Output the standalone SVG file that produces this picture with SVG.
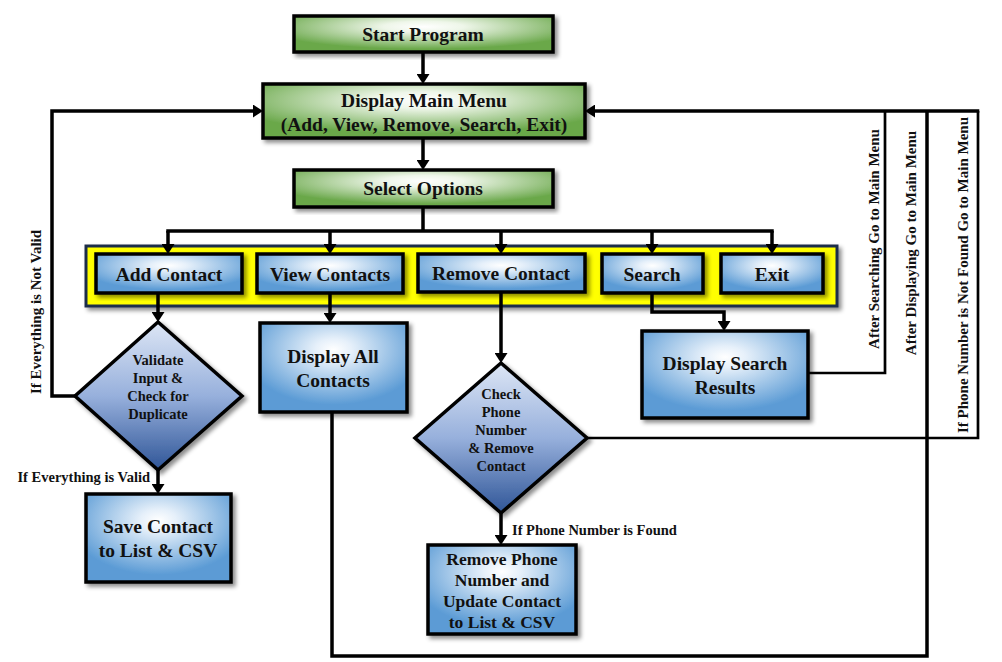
<svg xmlns="http://www.w3.org/2000/svg" width="1002" height="662" viewBox="0 0 1002 662">
<style>
.t{font-family:"Liberation Serif","Times New Roman",serif;font-weight:bold;fill:#111;text-anchor:middle}
.b{font-size:19.5px}
.m{font-size:17.5px}
.d{font-size:14.5px}
.l{font-size:14.5px}
.r{font-size:15px}
.box{stroke:#000;stroke-width:3.5}
.g{fill:url(#gG)}
.bl{fill:url(#gB)}
.dm{fill:url(#gD);stroke:#000;stroke-width:3.5;stroke-linejoin:miter}
.c{fill:none;stroke:#000;stroke-width:3.5}
.cs{fill:none;stroke:#000;stroke-width:2.7}
.a{marker-end:url(#ah)}
</style>
<defs>
<radialGradient id="gG" cx="50%" cy="30%" r="62%">
<stop offset="0" stop-color="#ffffff"/>
<stop offset="0.25" stop-color="#eef6e9"/>
<stop offset="1" stop-color="#6aa84a"/>
</radialGradient>
<radialGradient id="gB" cx="50%" cy="30%" r="62%">
<stop offset="0" stop-color="#ffffff"/>
<stop offset="0.2" stop-color="#e6f0fa"/>
<stop offset="1" stop-color="#5b9bd5"/>
</radialGradient>
<linearGradient id="gD" x1="0" y1="0" x2="0" y2="1">
<stop offset="0" stop-color="#dde6f5"/>
<stop offset="0.5" stop-color="#97b0dc"/>
<stop offset="1" stop-color="#2f5597"/>
</linearGradient>
<filter id="sh" x="-10%" y="-10%" width="125%" height="130%">
<feDropShadow dx="3" dy="3" stdDeviation="2" flood-color="#000" flood-opacity="0.45"/>
</filter>
<marker id="ah" markerUnits="userSpaceOnUse" markerWidth="10" markerHeight="13" refX="5" refY="6.5" orient="auto" viewBox="0 0 10 13">
<path d="M0,0 L10,6.5 L0,13 z" fill="#000"/>
</marker>
</defs>

<g id="band"><rect x="86" y="246" width="751" height="60" fill="#ffff00" stroke="#1f2d4a" stroke-width="3" filter="url(#sh)"/></g>

<g id="connectors">
<path class="c a" d="M423 52 V79"/>
<path class="c a" d="M423 138 V165"/>
<path class="c" d="M423 207 V231 M166.25 231 H773.75"/>
<path class="c a" d="M168 231 V249"/>
<path class="c a" d="M330 231 V249"/>
<path class="c a" d="M501 231 V249"/>
<path class="c a" d="M652 231 V249"/>
<path class="c a" d="M772 231 V249"/>
<path class="c a" d="M158 293 V317"/>
<path class="c a" d="M158 470 V489"/>
<path class="c a" d="M75 396 H52 V111 H258"/>
<path class="c a" d="M330 293 V318"/>
<path class="c a" d="M501 292 V358"/>
<path class="c a" d="M501 513 V540"/>
<path class="c a" d="M652 293 V312 H724 V326"/>
<path class="c" d="M332 412 V656 H927 V111"/>
<path class="cs" d="M808 373 H885 V111"/>
<path class="cs" d="M587 438 H978 V111"/>
<path class="c a" d="M979.3 111 H590"/>
</g>

<g id="start"><rect class="box g" x="294" y="16" width="259" height="36" filter="url(#sh)"/><text class="t b" x="423" y="41">Start Program</text></g>
<g id="mainmenu"><rect class="box g" x="263" y="84" width="322" height="54" filter="url(#sh)"/><text class="t b" x="424" y="107">Display Main Menu</text><text class="t b" x="424" y="131">(Add, View, Remove, Search, Exit)</text></g>
<g id="select"><rect class="box g" x="294" y="170" width="259" height="37" filter="url(#sh)"/><text class="t b" x="423" y="195">Select Options</text></g>

<g id="add"><rect class="box bl" x="96" y="254" width="146" height="39" filter="url(#sh)"/><text class="t b" x="169" y="281">Add Contact</text></g>
<g id="view"><rect class="box bl" x="257" y="254" width="146" height="39" filter="url(#sh)"/><text class="t b" x="330" y="281">View Contacts</text></g>
<g id="remove"><rect class="box bl" x="418" y="254" width="167" height="38" filter="url(#sh)"/><text class="t b" x="501" y="280">Remove Contact</text></g>
<g id="search"><rect class="box bl" x="602" y="254" width="101" height="39" filter="url(#sh)"/><text class="t b" x="652" y="281">Search</text></g>
<g id="exit"><rect class="box bl" x="721" y="254" width="102" height="39" filter="url(#sh)"/><text class="t b" x="772" y="281">Exit</text></g>

<g id="validate"><polygon class="dm" points="158,322 242,396 158,470 75,396" filter="url(#sh)"/>
<text class="t d" x="158" y="365">Validate</text><text class="t d" x="158" y="383">Input &amp;</text><text class="t d" x="158" y="401">Check for</text><text class="t d" x="158" y="419">Duplicate</text></g>

<g id="save"><rect class="box bl" x="86" y="494" width="145" height="88" filter="url(#sh)"/><text class="t b" x="158" y="533">Save Contact</text><text class="t b" x="158" y="557">to List &amp; CSV</text></g>

<g id="displayall"><rect class="box bl" x="260" y="323" width="147" height="89" filter="url(#sh)"/><text class="t b" x="333" y="363">Display All</text><text class="t b" x="333" y="387">Contacts</text></g>

<g id="results"><rect class="box bl" x="642" y="331" width="166" height="87" filter="url(#sh)"/><text class="t b" x="725" y="370">Display Search</text><text class="t b" x="725" y="394">Results</text></g>

<g id="check"><polygon class="dm" points="501,363 587,438 501,513 415,438" filter="url(#sh)"/>
<text class="t d" x="501" y="399">Check</text><text class="t d" x="501" y="417">Phone</text><text class="t d" x="501" y="435">Number</text><text class="t d" x="501" y="453">&amp; Remove</text><text class="t d" x="501" y="471">Contact</text></g>

<g id="removephone"><rect class="box bl" x="428" y="545" width="148" height="89" filter="url(#sh)"/><text class="t m" x="502" y="565">Remove Phone</text><text class="t m" x="502" y="586">Number and</text><text class="t m" x="502" y="607">Update Contact</text><text class="t m" x="502" y="628">to List &amp; CSV</text></g>

<g id="labels">
<text class="t l" x="150" y="482" style="text-anchor:end">If Everything is Valid</text>
<text class="t l" x="512" y="535" style="text-anchor:start">If Phone Number is Found</text>
<text class="t r" transform="translate(41,312) rotate(-90)">If Everything is Not Valid</text>
<text class="t r" transform="translate(879,239) rotate(-90)">After Searching Go to Main Menu</text>
<text class="t r" transform="translate(916,243) rotate(-90)">After Displaying Go to Main Menu</text>
<text class="t r" transform="translate(968,275) rotate(-90)">If Phone Number is Not Found Go to Main Menu</text>
</g>
</svg>
